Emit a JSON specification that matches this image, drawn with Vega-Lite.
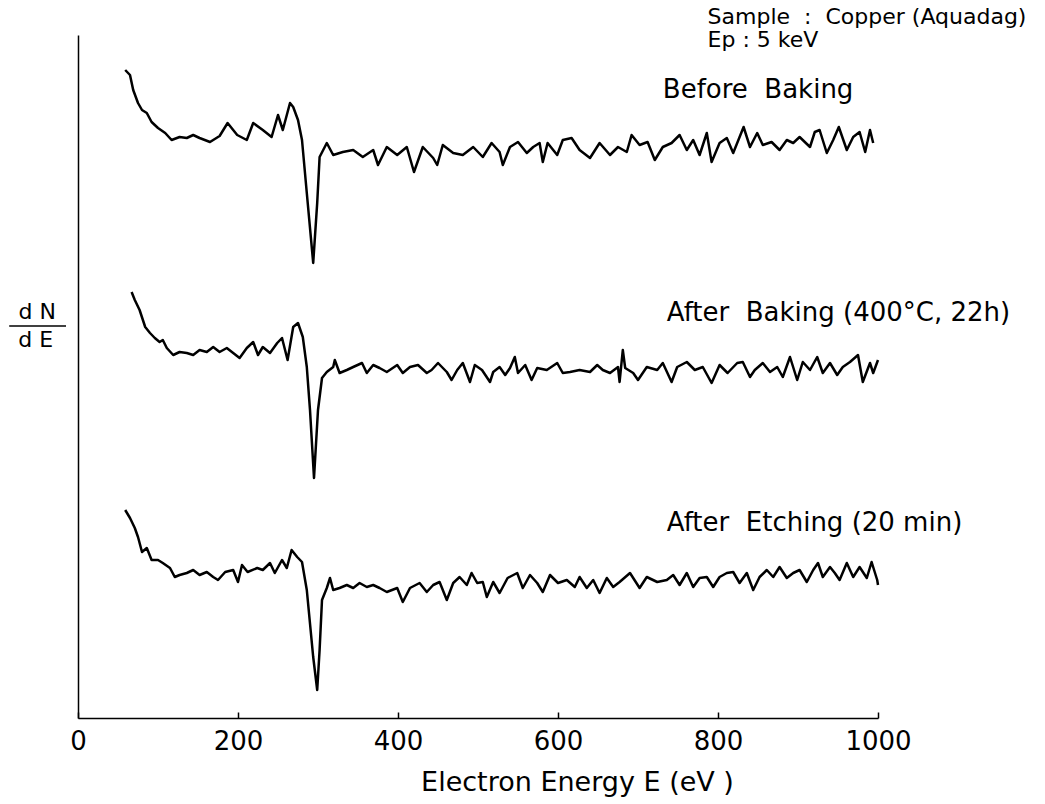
{
  "$schema": "https://vega.github.io/schema/vega-lite/v6.json",
  "width": 800,
  "height": 683,
  "autosize": {"type": "none"},
  "padding": {"left": 78, "top": 35, "right": 167, "bottom": 86},
  "background": "white",
  "config": {"view": {"stroke": null}, "font": "DejaVu Sans"},
  "datasets": {
    "spectra": [
      {"s":"A","e":59,"v":648},{"s":"A","e":65,"v":643},{"s":"A","e":69,"v":628},{"s":"A","e":75,"v":615},{"s":"A","e":80,"v":608},{"s":"A","e":86,"v":605},{"s":"A","e":92,"v":596},{"s":"A","e":100,"v":590},{"s":"A","e":109,"v":585},{"s":"A","e":117,"v":578},{"s":"A","e":127,"v":581},{"s":"A","e":136,"v":580},{"s":"A","e":144,"v":583},{"s":"A","e":152,"v":580},{"s":"A","e":165,"v":576},{"s":"A","e":177,"v":582},{"s":"A","e":187,"v":595},{"s":"A","e":199,"v":583},{"s":"A","e":211,"v":578},{"s":"A","e":219,"v":595},{"s":"A","e":231,"v":588},{"s":"A","e":242,"v":581},{"s":"A","e":250,"v":603},{"s":"A","e":256,"v":588},{"s":"A","e":265,"v":615},{"s":"A","e":269,"v":611},{"s":"A","e":275,"v":598},{"s":"A","e":280,"v":578},{"s":"A","e":286,"v":525},{"s":"A","e":294,"v":455},{"s":"A","e":299,"v":515},{"s":"A","e":302,"v":561},{"s":"A","e":311,"v":575},{"s":"A","e":319,"v":563},{"s":"A","e":331,"v":566},{"s":"A","e":344,"v":568},{"s":"A","e":356,"v":561},{"s":"A","e":369,"v":568},{"s":"A","e":375,"v":553},{"s":"A","e":386,"v":571},{"s":"A","e":399,"v":563},{"s":"A","e":411,"v":571},{"s":"A","e":420,"v":546},{"s":"A","e":431,"v":571},{"s":"A","e":444,"v":560},{"s":"A","e":449,"v":553},{"s":"A","e":456,"v":573},{"s":"A","e":469,"v":565},{"s":"A","e":481,"v":563},{"s":"A","e":494,"v":571},{"s":"A","e":506,"v":561},{"s":"A","e":517,"v":575},{"s":"A","e":527,"v":566},{"s":"A","e":531,"v":553},{"s":"A","e":540,"v":571},{"s":"A","e":550,"v":576},{"s":"A","e":561,"v":565},{"s":"A","e":569,"v":571},{"s":"A","e":577,"v":575},{"s":"A","e":581,"v":556},{"s":"A","e":587,"v":575},{"s":"A","e":599,"v":563},{"s":"A","e":606,"v":578},{"s":"A","e":617,"v":580},{"s":"A","e":627,"v":568},{"s":"A","e":640,"v":560},{"s":"A","e":652,"v":575},{"s":"A","e":665,"v":563},{"s":"A","e":675,"v":571},{"s":"A","e":686,"v":566},{"s":"A","e":692,"v":583},{"s":"A","e":702,"v":573},{"s":"A","e":712,"v":576},{"s":"A","e":721,"v":558},{"s":"A","e":731,"v":571},{"s":"A","e":742,"v":575},{"s":"A","e":752,"v":583},{"s":"A","e":761,"v":568},{"s":"A","e":769,"v":578},{"s":"A","e":777,"v":563},{"s":"A","e":786,"v":585},{"s":"A","e":792,"v":556},{"s":"A","e":802,"v":575},{"s":"A","e":811,"v":580},{"s":"A","e":819,"v":565},{"s":"A","e":827,"v":581},{"s":"A","e":832,"v":591},{"s":"A","e":840,"v":571},{"s":"A","e":849,"v":585},{"s":"A","e":856,"v":573},{"s":"A","e":867,"v":576},{"s":"A","e":877,"v":568},{"s":"A","e":886,"v":578},{"s":"A","e":894,"v":575},{"s":"A","e":902,"v":581},{"s":"A","e":915,"v":571},{"s":"A","e":921,"v":586},{"s":"A","e":927,"v":588},{"s":"A","e":936,"v":565},{"s":"A","e":944,"v":578},{"s":"A","e":951,"v":591},{"s":"A","e":961,"v":568},{"s":"A","e":969,"v":581},{"s":"A","e":977,"v":586},{"s":"A","e":984,"v":566},{"s":"A","e":990,"v":588},{"s":"A","e":994,"v":575},
      {"s":"B","e":67,"v":426},{"s":"B","e":71,"v":418},{"s":"B","e":77,"v":408},{"s":"B","e":84,"v":391},{"s":"B","e":90,"v":385},{"s":"B","e":96,"v":380},{"s":"B","e":102,"v":376},{"s":"B","e":106,"v":378},{"s":"B","e":111,"v":370},{"s":"B","e":119,"v":363},{"s":"B","e":127,"v":366},{"s":"B","e":136,"v":365},{"s":"B","e":144,"v":363},{"s":"B","e":152,"v":368},{"s":"B","e":161,"v":366},{"s":"B","e":169,"v":371},{"s":"B","e":177,"v":366},{"s":"B","e":186,"v":370},{"s":"B","e":194,"v":365},{"s":"B","e":202,"v":360},{"s":"B","e":211,"v":370},{"s":"B","e":219,"v":376},{"s":"B","e":225,"v":363},{"s":"B","e":231,"v":371},{"s":"B","e":240,"v":365},{"s":"B","e":249,"v":375},{"s":"B","e":255,"v":380},{"s":"B","e":262,"v":358},{"s":"B","e":269,"v":391},{"s":"B","e":275,"v":395},{"s":"B","e":281,"v":381},{"s":"B","e":286,"v":351},{"s":"B","e":290,"v":308},{"s":"B","e":295,"v":240},{"s":"B","e":300,"v":308},{"s":"B","e":305,"v":340},{"s":"B","e":311,"v":346},{"s":"B","e":319,"v":351},{"s":"B","e":321,"v":358},{"s":"B","e":327,"v":345},{"s":"B","e":336,"v":348},{"s":"B","e":344,"v":351},{"s":"B","e":355,"v":355},{"s":"B","e":361,"v":345},{"s":"B","e":369,"v":353},{"s":"B","e":377,"v":350},{"s":"B","e":386,"v":346},{"s":"B","e":399,"v":353},{"s":"B","e":406,"v":345},{"s":"B","e":415,"v":351},{"s":"B","e":425,"v":353},{"s":"B","e":436,"v":345},{"s":"B","e":442,"v":348},{"s":"B","e":450,"v":355},{"s":"B","e":461,"v":346},{"s":"B","e":467,"v":338},{"s":"B","e":474,"v":348},{"s":"B","e":481,"v":355},{"s":"B","e":490,"v":336},{"s":"B","e":496,"v":353},{"s":"B","e":505,"v":348},{"s":"B","e":515,"v":336},{"s":"B","e":519,"v":346},{"s":"B","e":527,"v":351},{"s":"B","e":534,"v":343},{"s":"B","e":540,"v":350},{"s":"B","e":546,"v":361},{"s":"B","e":550,"v":345},{"s":"B","e":559,"v":353},{"s":"B","e":567,"v":338},{"s":"B","e":574,"v":350},{"s":"B","e":586,"v":348},{"s":"B","e":599,"v":355},{"s":"B","e":606,"v":345},{"s":"B","e":615,"v":346},{"s":"B","e":627,"v":348},{"s":"B","e":640,"v":346},{"s":"B","e":649,"v":353},{"s":"B","e":656,"v":348},{"s":"B","e":665,"v":345},{"s":"B","e":675,"v":351},{"s":"B","e":677,"v":336},{"s":"B","e":681,"v":368},{"s":"B","e":684,"v":350},{"s":"B","e":694,"v":345},{"s":"B","e":700,"v":338},{"s":"B","e":711,"v":351},{"s":"B","e":724,"v":348},{"s":"B","e":731,"v":355},{"s":"B","e":742,"v":336},{"s":"B","e":749,"v":351},{"s":"B","e":761,"v":356},{"s":"B","e":771,"v":348},{"s":"B","e":781,"v":351},{"s":"B","e":792,"v":335},{"s":"B","e":802,"v":353},{"s":"B","e":812,"v":345},{"s":"B","e":824,"v":355},{"s":"B","e":831,"v":356},{"s":"B","e":840,"v":341},{"s":"B","e":846,"v":348},{"s":"B","e":856,"v":355},{"s":"B","e":865,"v":346},{"s":"B","e":874,"v":351},{"s":"B","e":881,"v":341},{"s":"B","e":890,"v":361},{"s":"B","e":899,"v":338},{"s":"B","e":906,"v":356},{"s":"B","e":915,"v":348},{"s":"B","e":924,"v":361},{"s":"B","e":931,"v":345},{"s":"B","e":940,"v":355},{"s":"B","e":949,"v":343},{"s":"B","e":956,"v":351},{"s":"B","e":965,"v":356},{"s":"B","e":975,"v":363},{"s":"B","e":981,"v":336},{"s":"B","e":990,"v":355},{"s":"B","e":994,"v":345},{"s":"B","e":1000,"v":358},
      {"s":"C","e":59,"v":208},{"s":"C","e":65,"v":200},{"s":"C","e":71,"v":190},{"s":"C","e":75,"v":181},{"s":"C","e":80,"v":166},{"s":"C","e":86,"v":170},{"s":"C","e":92,"v":158},{"s":"C","e":100,"v":158},{"s":"C","e":106,"v":155},{"s":"C","e":115,"v":150},{"s":"C","e":121,"v":141},{"s":"C","e":127,"v":143},{"s":"C","e":136,"v":145},{"s":"C","e":144,"v":148},{"s":"C","e":152,"v":143},{"s":"C","e":161,"v":146},{"s":"C","e":169,"v":141},{"s":"C","e":175,"v":138},{"s":"C","e":184,"v":146},{"s":"C","e":194,"v":148},{"s":"C","e":200,"v":136},{"s":"C","e":205,"v":153},{"s":"C","e":212,"v":146},{"s":"C","e":224,"v":150},{"s":"C","e":231,"v":148},{"s":"C","e":240,"v":155},{"s":"C","e":246,"v":145},{"s":"C","e":255,"v":158},{"s":"C","e":261,"v":150},{"s":"C","e":267,"v":168},{"s":"C","e":274,"v":161},{"s":"C","e":280,"v":156},{"s":"C","e":286,"v":128},{"s":"C","e":294,"v":61},{"s":"C","e":299,"v":28},{"s":"C","e":302,"v":68},{"s":"C","e":305,"v":118},{"s":"C","e":311,"v":130},{"s":"C","e":315,"v":140},{"s":"C","e":319,"v":128},{"s":"C","e":327,"v":130},{"s":"C","e":336,"v":133},{"s":"C","e":344,"v":130},{"s":"C","e":352,"v":135},{"s":"C","e":361,"v":131},{"s":"C","e":369,"v":133},{"s":"C","e":377,"v":130},{"s":"C","e":386,"v":126},{"s":"C","e":399,"v":130},{"s":"C","e":406,"v":116},{"s":"C","e":415,"v":130},{"s":"C","e":427,"v":135},{"s":"C","e":436,"v":126},{"s":"C","e":444,"v":133},{"s":"C","e":452,"v":136},{"s":"C","e":461,"v":118},{"s":"C","e":469,"v":135},{"s":"C","e":477,"v":141},{"s":"C","e":486,"v":133},{"s":"C","e":492,"v":145},{"s":"C","e":499,"v":135},{"s":"C","e":506,"v":136},{"s":"C","e":511,"v":121},{"s":"C","e":519,"v":136},{"s":"C","e":527,"v":125},{"s":"C","e":537,"v":140},{"s":"C","e":549,"v":145},{"s":"C","e":556,"v":130},{"s":"C","e":565,"v":143},{"s":"C","e":574,"v":135},{"s":"C","e":581,"v":126},{"s":"C","e":590,"v":143},{"s":"C","e":600,"v":135},{"s":"C","e":611,"v":138},{"s":"C","e":621,"v":131},{"s":"C","e":627,"v":141},{"s":"C","e":636,"v":130},{"s":"C","e":644,"v":138},{"s":"C","e":652,"v":125},{"s":"C","e":661,"v":140},{"s":"C","e":669,"v":131},{"s":"C","e":677,"v":136},{"s":"C","e":690,"v":145},{"s":"C","e":702,"v":130},{"s":"C","e":711,"v":141},{"s":"C","e":724,"v":136},{"s":"C","e":736,"v":138},{"s":"C","e":744,"v":143},{"s":"C","e":752,"v":133},{"s":"C","e":761,"v":145},{"s":"C","e":769,"v":131},{"s":"C","e":777,"v":140},{"s":"C","e":786,"v":141},{"s":"C","e":794,"v":131},{"s":"C","e":802,"v":141},{"s":"C","e":811,"v":145},{"s":"C","e":819,"v":146},{"s":"C","e":827,"v":135},{"s":"C","e":836,"v":145},{"s":"C","e":844,"v":128},{"s":"C","e":852,"v":141},{"s":"C","e":861,"v":148},{"s":"C","e":869,"v":141},{"s":"C","e":877,"v":151},{"s":"C","e":886,"v":140},{"s":"C","e":894,"v":145},{"s":"C","e":902,"v":148},{"s":"C","e":911,"v":136},{"s":"C","e":919,"v":148},{"s":"C","e":925,"v":155},{"s":"C","e":931,"v":141},{"s":"C","e":940,"v":151},{"s":"C","e":946,"v":145},{"s":"C","e":952,"v":138},{"s":"C","e":961,"v":155},{"s":"C","e":969,"v":141},{"s":"C","e":977,"v":151},{"s":"C","e":986,"v":140},{"s":"C","e":992,"v":156},{"s":"C","e":999,"v":138},{"s":"C","e":1000,"v":133}
    ],
    "notes": [
      {"x":787,"y":701,"t":"Sample\u00a0 : \u00a0Copper (Aquadag)","fs":22},
      {"x":787,"y":678,"t":"Ep : 5 keV","fs":22},
      {"x":731,"y":628,"t":"Before\u00a0 Baking","fs":26},
      {"x":736,"y":405,"t":"After\u00a0 Baking (400°C, 22h)","fs":26},
      {"x":736,"y":195,"t":"After\u00a0 Etching (20 min)","fs":26}
    ],
    "frac": [
      {"x":-51,"y":406,"t":"d N"},
      {"x":-53,"y":378,"t":"d E"}
    ],
    "fracline": [
      {"x1":-86,"x2":-15,"y":392}
    ]
  },
  "layer": [
    {
      "data": {"name": "spectra"},
      "mark": {"type": "line", "color": "black", "strokeWidth": 2.5, "strokeJoin": "round"},
      "encoding": {
        "x": {"field": "e", "type": "quantitative", "scale": {"domain": [0, 1000], "nice": false},
          "axis": {"title": "Electron Energy E (eV )", "values": [0, 200, 400, 600, 800, 1000], "format": "d", "tickSize": -6, "tickColor": "black", "tickWidth": 1.5, "domainColor": "black", "domainWidth": 1.5, "grid": false, "labelFontSize": 26, "labelColor": "black", "labelPadding": 16, "labelFlush": false, "labelFont": "DejaVu Sans", "titleFont": "DejaVu Sans", "titleFontSize": 27, "titleFontWeight": "normal", "titleColor": "black", "titleX": 499, "titleY": 64, "titleBaseline": "middle"}},
        "y": {"field": "v", "type": "quantitative", "scale": {"domain": [0, 683], "nice": false},
          "axis": {"title": null, "labels": false, "ticks": false, "grid": false, "domainColor": "black", "domainWidth": 1.5}},
        "detail": {"field": "s"}
      }
    },
    {
      "data": {"name": "notes"},
      "mark": {"type": "text", "align": "left", "baseline": "middle", "color": "black", "font": "DejaVu Sans"},
      "encoding": {
        "x": {"field": "x", "type": "quantitative"},
        "y": {"field": "y", "type": "quantitative"},
        "text": {"field": "t"},
        "size": {"field": "fs", "type": "quantitative", "scale": null}
      }
    },
    {
      "data": {"name": "frac"},
      "mark": {"type": "text", "align": "center", "baseline": "middle", "color": "black", "font": "DejaVu Sans", "fontSize": 22},
      "encoding": {
        "x": {"field": "x", "type": "quantitative"},
        "y": {"field": "y", "type": "quantitative"},
        "text": {"field": "t"}
      }
    },
    {
      "data": {"name": "fracline"},
      "mark": {"type": "rule", "color": "black", "strokeWidth": 1.5},
      "encoding": {
        "x": {"field": "x1", "type": "quantitative"},
        "x2": {"field": "x2"},
        "y": {"field": "y", "type": "quantitative"}
      }
    }
  ]
}
